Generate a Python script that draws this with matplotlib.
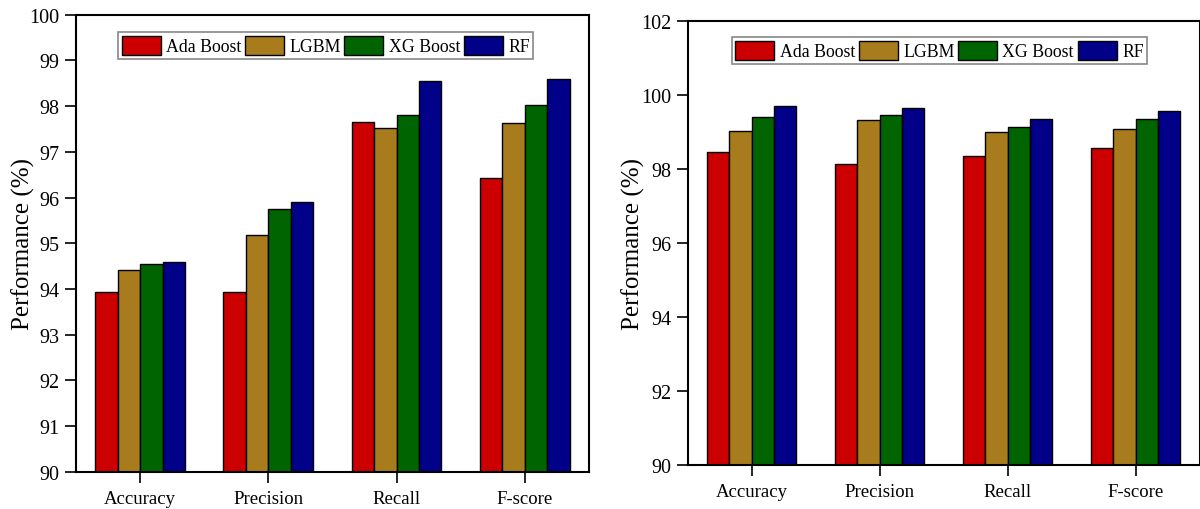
import numpy as np
import matplotlib.pyplot as plt

plt.rcParams['font.family'] = ['Liberation Serif', 'DejaVu Serif']

# 数据
metrics = ['Accuracy', 'Precision', 'Recall', 'F-score']
models = ['Ada Boost', 'LGBM', 'XG Boost', 'RF']
colors = ['#cc0000', '#a87c1c', '#006400', '#000088']

# 左图
left_ada = [93.94, 93.94, 97.65, 96.42]
left_lgbm = [94.41, 95.18, 97.52, 97.63]
left_xgb = [94.54, 95.75, 97.80, 98.02]
left_rf = [94.58, 95.91, 98.56, 98.59]
left_yticks = [90, 91, 92, 93, 94, 95, 96, 97, 98, 99, 100]

# 右图
right_ada = [98.46, 98.13, 98.33, 98.56]
right_lgbm = [99.03, 99.31, 99.00, 99.06]
right_xgb = [99.41, 99.46, 99.13, 99.35]
right_rf = [99.70, 99.65, 99.33, 99.55]
right_yticks = [90, 92, 94, 96, 98, 100, 102]


def draw_panel(ax, series, yticks, leg_anchor):
    x = np.arange(1, len(metrics) + 1)
    w = 0.175
    for i, (vals, name) in enumerate(zip(series, models)):
        ax.bar(x + (i - 1.5) * w, np.array(vals) - yticks[0], w,
               bottom=yticks[0], color=colors[i], edgecolor='black',
               linewidth=1.0, label=name)
    ax.set_xlim(0.5, 4.5)
    ax.set_ylim(yticks[0], yticks[-1])
    ax.set_xticks(x)
    ax.set_xticklabels(metrics, fontsize=13.5)
    ax.set_yticks(yticks)
    ax.set_yticklabels([str(t) for t in yticks], fontsize=14.5)
    ax.tick_params(direction='out', length=8, width=1.2, top=False, right=False)
    ax.tick_params(axis='y', pad=4)
    ax.tick_params(axis='x', pad=5)
    for s in ax.spines.values():
        s.set_linewidth(1.5)
    ax.set_ylabel('Performance (%)', fontsize=18)
    leg = ax.legend(loc='upper left', bbox_to_anchor=leg_anchor, ncol=4,
                    fontsize=12.8, handlelength=2.2, handleheight=1.25,
                    handletextpad=0.3, columnspacing=0.2, borderpad=0.2,
                    borderaxespad=0, fancybox=False, framealpha=1)
    leg.get_frame().set_edgecolor('#888888')
    leg.get_frame().set_linewidth(1.2)


fig = plt.figure(figsize=(12, 5.1), dpi=100)
ax1 = fig.add_axes([0.0633, 0.0731, 0.4275, 0.896])
ax2 = fig.add_axes([0.5731, 0.0869, 0.4265, 0.8706])

draw_panel(ax1, [left_ada, left_lgbm, left_xgb, left_rf], left_yticks, (0.082, 0.9615))
draw_panel(ax2, [right_ada, right_lgbm, right_xgb, right_rf], right_yticks, (0.086, 0.9626))
ax1.yaxis.set_label_coords(-0.08, 0.5)
ax2.yaxis.set_label_coords(-0.083, 0.5)

fig.savefig('out.png', dpi=100)
